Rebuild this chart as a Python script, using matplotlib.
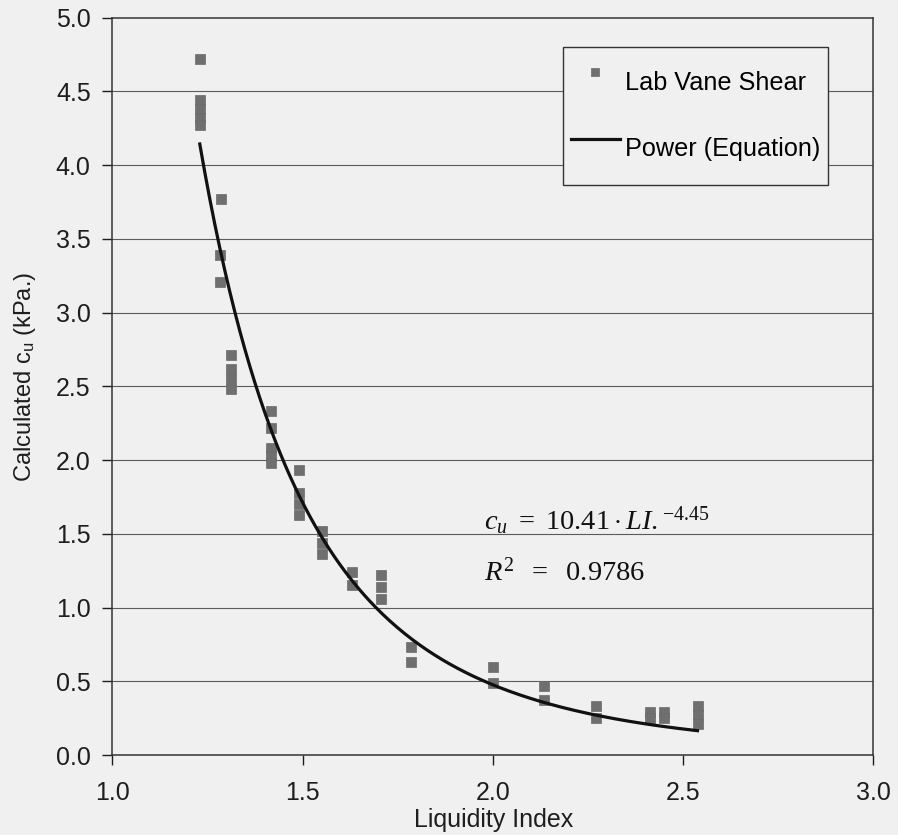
import numpy as np
import matplotlib
matplotlib.use("Agg")
import matplotlib.pyplot as plt

# Lab vane shear measurements (liquidity index vs. undrained strength, kPa)
liquidity_index = [
    1.23, 1.23, 1.23, 1.23, 1.23,
    1.285, 1.283, 1.283,
    1.313, 1.313, 1.313, 1.313,
    1.417, 1.417, 1.417, 1.417, 1.417,
    1.491, 1.491, 1.491, 1.491,
    1.552, 1.552, 1.552,
    1.630, 1.630,
    1.706, 1.706, 1.706,
    1.785, 1.785,
    2.000, 2.000,
    2.134, 2.134,
    2.270, 2.270,
    2.414, 2.414,
    2.451, 2.451,
    2.538, 2.538, 2.538,
]
cu_kpa = [
    4.72, 4.44, 4.38, 4.32, 4.27,
    3.77, 3.39, 3.21,
    2.71, 2.62, 2.55, 2.48,
    2.33, 2.22, 2.08, 2.03, 1.98,
    1.93, 1.78, 1.70, 1.63,
    1.52, 1.44, 1.36,
    1.24, 1.15,
    1.22, 1.14, 1.06,
    0.73, 0.63,
    0.60, 0.49,
    0.47, 0.37,
    0.33, 0.25,
    0.29, 0.25,
    0.29, 0.25,
    0.33, 0.27, 0.21,
]

# Power-law fit: cu = a * LI^b
fit_a = 10.41
fit_b = -4.45
fit_r2 = 0.9786

x_ticks = [1.0, 1.5, 2.0, 2.5, 3.0]
y_ticks = [0.0, 0.5, 1.0, 1.5, 2.0, 2.5, 3.0, 3.5, 4.0, 4.5, 5.0]

plt.rcParams["font.family"] = ["Liberation Sans", "DejaVu Sans"]
plt.rcParams["mathtext.fontset"] = "custom"
plt.rcParams["mathtext.rm"] = "Liberation Serif"
plt.rcParams["mathtext.it"] = "Liberation Serif:italic"

bg = "#f0f0f0"
ink = "#1e1e1e"
fig = plt.figure(figsize=(8.98, 8.35), dpi=100, facecolor=bg)
ax = fig.add_axes([0.125, 0.0958, 0.8475, 0.883], facecolor=bg)

for y in y_ticks[1:-1]:
    ax.axhline(y, color="#5c5c5c", lw=0.8, zorder=1)

ax.plot(liquidity_index, cu_kpa, ls="none", marker="s", ms=7.6,
        mfc="#6f6f6f", mec="#6a6a6a", mew=0.5, zorder=2,
        label="Lab Vane Shear")

li_fit = np.linspace(min(liquidity_index), max(liquidity_index), 200)
ax.plot(li_fit, fit_a * li_fit ** fit_b, color="#111111", lw=2.3, zorder=3,
        label="Power (Equation)")

ax.set_xlim(1.0, 3.0)
ax.set_ylim(0.0, 5.0)
ax.set_xticks(x_ticks)
ax.set_yticks(y_ticks)
ax.set_xticklabels([f"{v:.1f}" for v in x_ticks])
ax.set_yticklabels([f"{v:.1f}" for v in y_ticks])
ax.tick_params(direction="out", length=7.5, width=1.0, labelsize=18,
               colors=ink)
ax.tick_params(axis="x", pad=11)
ax.tick_params(axis="y", pad=8)
for s in ax.spines.values():
    s.set_color("#333333")
    s.set_linewidth(1.1)

ax.set_xlabel("Liquidity Index", fontsize=18, color=ink)
ax.xaxis.set_label_coords(0.5016, -0.0715)
ax.set_ylabel("Calculated c$_\\mathregular{u}$ (kPa.)", fontsize=17,
              color=ink)
ax.yaxis.set_label_coords(-0.097, 0.513)

ax.text(1.978, 1.525,
        r"$c_u\ =\ 10.41\cdot LI.^{-4.45}$",
        fontsize=20.5, color="#111111", va="baseline", ha="left")
ax.text(1.978, 1.185,
        r"$R^2\ \ =\ \ %.4f$" % fit_r2,
        fontsize=20.5, color="#111111", va="baseline", ha="left")

leg = ax.legend(loc="upper left", bbox_to_anchor=(0.5923, 0.9603),
                borderaxespad=0, fontsize=18.2, frameon=True, fancybox=False,
                edgecolor="#333333", facecolor=bg, framealpha=1,
                handlelength=1.95, handletextpad=0.2, handleheight=3.05,
                labelspacing=0.4, borderpad=0.3, markerscale=0.8)
leg.get_frame().set_linewidth(1.0)

fig.savefig("out.png", dpi=100, facecolor=bg)
